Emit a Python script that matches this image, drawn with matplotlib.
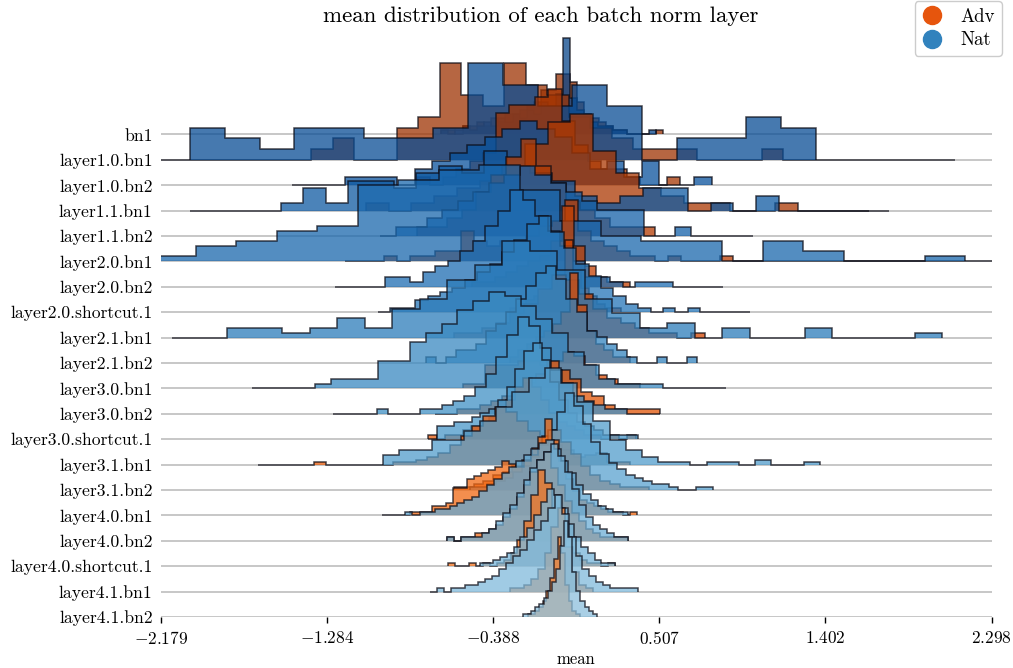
import numpy as np
import matplotlib
matplotlib.use('Agg')
import matplotlib.pyplot as plt
from matplotlib.lines import Line2D

plt.rcParams['font.family'] = ['cmr10', 'DejaVu Serif']
plt.rcParams['mathtext.fontset'] = 'cm'
plt.rcParams['axes.formatter.use_mathtext'] = True

layers = ['bn1', 'layer1.0.bn1', 'layer1.0.bn2', 'layer1.1.bn1', 'layer1.1.bn2',
          'layer2.0.bn1', 'layer2.0.bn2', 'layer2.0.shortcut.1', 'layer2.1.bn1',
          'layer2.1.bn2', 'layer3.0.bn1', 'layer3.0.bn2', 'layer3.0.shortcut.1',
          'layer3.1.bn1', 'layer3.1.bn2', 'layer4.0.bn1', 'layer4.0.bn2',
          'layer4.0.shortcut.1', 'layer4.1.bn1', 'layer4.1.bn2']

# histogram range (min, max of the channel means) and bin counts, per layer
adv_lo = [-0.670, -2.179, -0.800, -1.075, -0.800, -1.188, -0.503, -0.299, -0.600, -0.299,
          -0.552, -0.703, -0.740, -1.657, -0.600, -0.988, -0.638, -0.633, -0.299, -0.202]
adv_hi = [0.526, 2.099, 0.617, 1.743, 0.482, 2.298, 0.348, 0.299, 0.752, 0.348,
          0.402, 0.509, 0.380, 0.348, 0.450, 0.385, 0.337, 0.267, 0.149, 0.078]
nat_lo = [-0.670, -2.023, -1.472, -2.023, -0.999, -2.210, -1.242, -1.010, -2.118, -0.751,
          -1.689, -1.252, -0.740, -0.983, -0.514, -0.864, -0.638, -0.460, -0.730, -0.228]
nat_hi = [0.487, 1.350, 0.790, 1.637, 1.010, 2.155, 0.849, 0.994, 2.031, 0.709,
          0.865, 0.509, 0.390, 1.372, 0.795, 0.337, 0.337, 0.267, 0.391, 0.170]

adv_counts = [
    [1, 1, 0, 2, 2, 3, 2, 4, 3, 5, 5, 6, 7, 8, 11, 11, 15, 15, 13, 8, 5, 4, 3, 2, 1, 1, 0, 0, 0, 0, 1],
    [0, 0, 0, 0, 0, 0, 0, 1, 2, 0, 0, 3, 4, 9, 6, 5, 9, 7, 6, 4, 3, 2, 1, 1, 1, 0, 0, 0, 1, 0, 0, 0, 0, 0, 0, 0, 0],
    [1, 0, 1, 2, 3, 4, 9, 10, 10, 11, 12, 8, 5, 3, 2, 2, 1, 0, 0, 1],
    [1, 0, 1, 2, 3, 4, 6, 9, 12, 13, 8, 5, 3, 2, 1, 1, 0, 0, 1, 0, 0, 0, 0],
    [1, 1, 2, 3, 5, 7, 9, 11, 8, 6, 4, 3, 2, 1, 1, 1],
    [0, 0, 0, 1, 0, 1, 1, 2, 2, 6, 4, 3, 4, 4, 5, 7, 8, 12, 6, 4, 3, 2, 1, 1, 0, 1, 0, 0, 0, 1,
     0, 0, 0, 0, 0, 0, 0, 0, 0, 0, 0, 0, 0, 0, 0, 0, 0, 0, 0, 0],
    [1, 1, 2, 3, 4, 5, 6, 9, 16, 8, 4, 2, 1, 1],
    [1, 2, 3, 4, 5, 6, 8, 18, 10, 6, 4, 2, 1, 1],
    [1, 1, 2, 3, 5, 7, 10, 13, 12, 9, 6, 4, 3, 2, 1, 1, 0, 1],
    [1, 2, 3, 4, 5, 6, 8, 14, 9, 5, 3, 2, 1, 1],
    [1, 1, 5, 5, 5, 6, 6, 5, 6, 8, 7, 5, 3, 2, 1, 1],
    [0, 0, 1, 1, 2, 3, 4, 5, 7, 9, 12, 10, 8, 5, 4, 2, 1, 1, 1, 1],
    [1, 0, 1, 1, 2, 3, 4, 5, 7, 9, 12, 14, 12, 9, 6, 4, 3, 2, 1, 1, 0, 1, 0, 1],
    [0, 0, 0, 0, 0, 1, 0, 0, 0, 0, 0, 0, 1, 1, 2, 3, 5, 8, 12, 16, 20, 24, 22, 18, 14, 10, 8, 6, 3, 4, 5, 1, 1],
    [1, 1, 2, 3, 5, 6, 8, 10, 14, 18, 20, 16, 12, 8, 5, 3, 2, 1, 1, 1],
    [0, 0, 0, 0, 1, 1, 1, 3, 3, 4, 9, 9, 12, 13, 14, 15, 16, 18, 17, 16, 18, 20, 26, 32, 25, 18, 12, 8, 5, 4, 3, 2, 1, 1, 0, 1],
    [1, 0, 1, 1, 2, 2, 3, 4, 6, 8, 11, 14, 17, 20, 22, 18, 14, 10, 7, 5, 3, 2, 1, 1, 1, 1],
    [1, 0, 0, 1, 0, 1, 0, 1, 2, 4, 8, 14, 22, 30, 26, 18, 10, 6, 4, 2, 1, 1, 0, 1],
    [1, 1, 2, 4, 7, 12, 20, 26, 14, 6, 2, 1],
    [1, 1, 2, 3, 5, 8, 12, 18, 25, 20, 10, 5, 2, 1],
]

nat_counts = [
    [1, 0, 1, 2, 1, 2, 3, 2, 4, 3, 5, 4, 6, 5, 8, 7, 10, 24, 9, 6, 5, 3, 2, 2, 1, 1, 0, 0, 0, 1],
    [3, 2, 1, 3, 3, 2, 2, 3, 9, 7, 5, 7, 5, 0, 2, 2, 4, 3],
    [0, 0, 0, 1, 1, 1, 0, 2, 3, 4, 5, 6, 7, 8, 7, 6, 4, 2, 3, 1, 3, 0, 0, 1],
    [0, 0, 0, 0, 1, 3, 1, 4, 4, 3, 5, 6, 5, 8, 6, 5, 4, 2, 1, 2, 3, 3, 0, 1, 0, 2, 0, 0, 0, 0],
    [0, 1, 1, 2, 3, 4, 5, 6, 7, 8, 7, 6, 5, 4, 3, 3, 3, 0, 0, 1, 0, 0, 0, 0],
    [1, 3, 4, 6, 7, 15, 16, 18, 19, 14, 8, 5, 4, 4, 0, 4, 2, 0, 0, 1],
    [0, 0, 0, 0, 2, 2, 1, 3, 4, 5, 7, 9, 12, 15, 19, 17, 14, 11, 8, 5, 2, 2, 1, 0, 1, 1, 1, 0, 0, 0, 0],
    [0, 1, 1, 3, 4, 5, 6, 8, 10, 12, 15, 18, 22, 24, 20, 16, 12, 9, 6, 4, 2, 1, 0, 1, 0, 1, 0, 0, 0, 0],
    [0, 0, 2, 2, 1, 2, 4, 2, 6, 8, 12, 15, 20, 18, 14, 8, 5, 2, 3, 0, 2, 0, 0, 2, 0, 0, 0, 1],
    [1, 0, 1, 2, 2, 3, 5, 6, 8, 10, 12, 14, 15, 13, 10, 8, 5, 4, 3, 2, 1, 0, 0, 1, 0, 0, 1],
    [0, 0, 0, 0, 1, 2, 2, 2, 6, 6, 10, 12, 14, 17, 19, 21, 20, 18, 15, 12, 8, 5, 2, 1, 1, 1, 0, 0, 0, 0],
    [0, 0, 0, 0, 1, 0, 0, 0, 1, 1, 2, 3, 4, 6, 9, 13, 18, 22, 20, 15, 10, 7, 4, 3, 2, 1, 1, 0, 0, 0],
    [0, 3, 3, 4, 4, 5, 6, 7, 9, 12, 16, 20, 22, 18, 13, 9, 6, 4, 3, 2, 1, 1, 1, 1],
    [4, 6, 6, 10, 10, 14, 18, 24, 30, 36, 40, 34, 26, 18, 10, 6, 3, 1, 1, 0, 1, 1, 0, 2, 0, 0, 1],
    [1, 1, 2, 3, 4, 6, 8, 11, 15, 20, 26, 32, 28, 22, 16, 12, 9, 7, 5, 4, 3, 2, 2, 1, 0, 0, 1, 1],
    [1, 0, 1, 1, 2, 2, 3, 4, 5, 6, 8, 10, 12, 14, 16, 18, 20, 22, 24, 25, 22, 18, 14, 10, 7, 5, 3, 2, 1, 1],
    [1, 0, 1, 1, 1, 2, 3, 5, 7, 9, 12, 15, 18, 20, 22, 24, 21, 17, 13, 9, 6, 4, 3, 2, 1, 1],
    [1, 1, 2, 3, 4, 6, 9, 12, 16, 20, 24, 22, 18, 13, 9, 6, 4, 2, 1, 1],
    [0, 1, 0, 1, 1, 2, 2, 3, 4, 5, 7, 9, 11, 13, 16, 19, 22, 26, 30, 24, 17, 11, 7, 5, 3, 2, 1, 1, 1, 1],
    [1, 1, 2, 3, 4, 6, 8, 11, 15, 22, 30, 25, 14, 8, 5, 3, 2, 1],
]

x_ticks = [-2.179, -1.284, -0.388, 0.507, 1.402, 2.298]

fig = plt.figure(figsize=(10.13, 6.68), dpi=100)
ax = fig.add_axes([0.159, 0.0763, 0.820, 0.8746])

n = len(layers)
overlap = 3.8
adv_cols = plt.cm.Oranges(np.linspace(0.92, 0.55, n))
nat_cols = plt.cm.Blues(np.linspace(0.92, 0.42, n))

for i, name in enumerate(layers):
    base = n - 1 - i
    adv = np.array(adv_counts[i], dtype=float)
    nat = np.array(nat_counts[i], dtype=float)
    top = max(adv.max(), nat.max())
    ax.axhline(base, color='#bdbdbd', lw=1.2, zorder=3 * i)
    series = [(adv, adv_lo[i], adv_hi[i], adv_cols[i]),
              (nat, nat_lo[i], nat_hi[i], nat_cols[i])]
    for k, (cnt, lo, hi, col) in enumerate(series):
        edges = np.linspace(lo, hi, len(cnt) + 1)
        ax.stairs(base + cnt / top * overlap, edges, baseline=base, fill=True,
                  facecolor=col, edgecolor='#0a0a14', linewidth=1.1, alpha=0.75,
                  zorder=3 * i + k + 1)

ax.set_xlim(x_ticks[0], x_ticks[-1])
ax.set_ylim(0, 23.0)
ax.set_yticks(range(n))
ax.set_yticklabels(layers[::-1], fontsize=12.7)
ax.tick_params(axis='y', length=0, pad=6)
ax.set_xticks(x_ticks)
ax.set_xticklabels(['$%.3f$' % t for t in x_ticks], fontsize=12.5)
ax.tick_params(axis='x', length=4, width=1, pad=5)
ax.set_xlabel('mean', fontsize=12, labelpad=4)
for s in ax.spines.values():
    s.set_visible(False)

fig.text(541 / 1013, 1 - 16 / 668, 'mean distribution of each batch norm layer',
         ha='center', va='center', fontsize=16.5)

handles = [Line2D([], [], ls='', marker='o', ms=13, color='#e6550d'),
           Line2D([], [], ls='', marker='o', ms=13, color='#3182bd')]
fig.legend(handles, ['Adv', 'Nat'], loc='upper right', bbox_to_anchor=(0.998, 1.012),
           fontsize=13.5, framealpha=1, handlelength=1.2, handletextpad=0.9,
           borderpad=0.35, labelspacing=0.3)

fig.savefig('out.png', dpi=100)
